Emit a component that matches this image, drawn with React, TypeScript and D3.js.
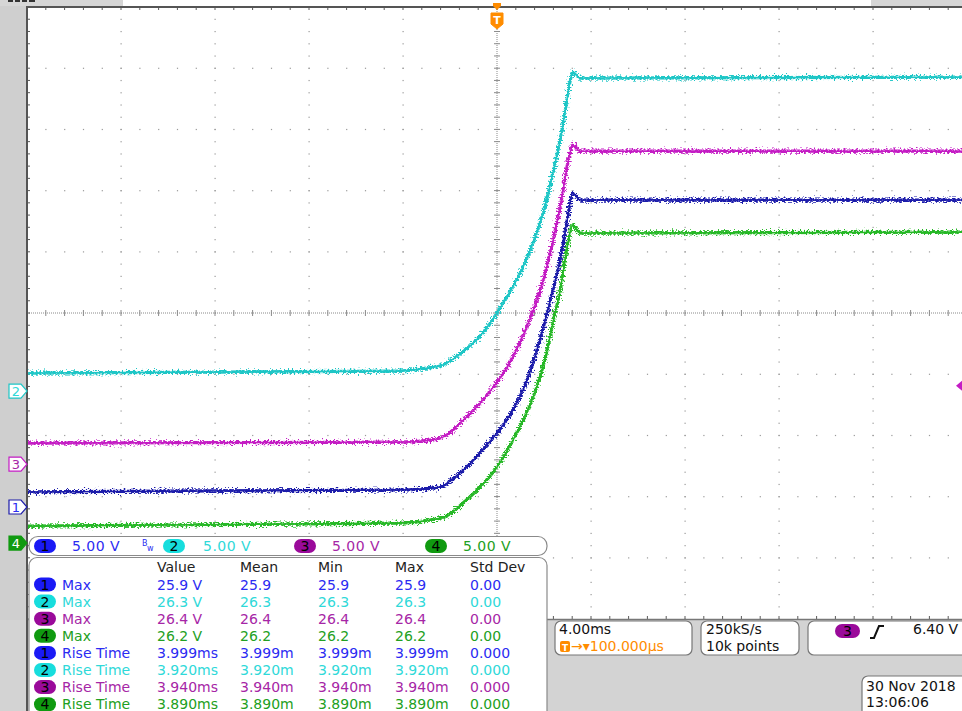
import React from "react";
import * as d3 from "d3";

const W = 962;
const H = 711;

// traces: [time ms, volts]
const ch1Trace: [number, number][] = [
  [-20, 1.23], [-4.13, 1.39], [-2.43, 1.63], [-1.79, 2.45], [-1.15, 3.51], [-0.51, 4.9],
  [0, 6.05], [0.55, 7.52], [1.11, 9.56], [1.7, 12.83], [2.13, 15.85], [2.38, 17.73],
  [2.55, 19.04], [2.77, 21.0], [2.98, 23.37], [3.23, 25.65], [3.53, 25.08], [19.8, 25.08],
];
const ch2Trace: [number, number][] = [
  [-20, 1.47], [-4.13, 1.63], [-3.28, 1.8], [-2.43, 2.04], [-1.57, 3.02], [-0.72, 4.49],
  [0, 6.37], [0.55, 8.09], [1.11, 10.13], [1.53, 12.09], [2.0, 14.79], [2.38, 17.81],
  [2.77, 21.32], [3.19, 25.9], [3.23, 26.06], [3.53, 25.57], [19.8, 25.65],
];
const ch3Trace: [number, number][] = [
  [-20, 1.72], [-4.13, 1.8], [-2.85, 1.96], [-2.21, 2.29], [-1.57, 3.35], [-0.72, 4.98],
  [0, 6.7], [0.43, 7.92], [0.98, 9.97], [1.53, 12.5], [2.04, 15.52], [2.38, 18.22],
  [2.77, 21.9], [3.02, 24.67], [3.23, 26.06], [3.53, 25.57], [19.8, 25.57],
];
const ch4Trace: [number, number][] = [
  [-20, 1.39], [-4.13, 1.63], [-2.85, 1.88], [-2.13, 2.21], [-1.45, 3.27], [-0.72, 4.58],
  [0, 6.21], [0.68, 8.42], [1.4, 11.27], [1.83, 13.56], [2.13, 15.77], [2.47, 18.79],
  [2.64, 20.18], [2.81, 22.06], [2.98, 24.1], [3.23, 25.98], [3.53, 25.33], [19.8, 25.41],
];
const traces = [ch1Trace, ch2Trace, ch3Trace, ch4Trace];

const channelIds = ["1", "2", "3", "4"];
const channelOffsetsDiv = [-3.17, -1.275, -2.47, -3.76];
const channelScales = ["5.00 V", "5.00 V", "5.00 V", "5.00 V"];
const voltsPerDiv = 5;

const traceColors = ["#1c1caa", "#1fc6c6", "#c41cc4", "#27b827"];
const textColors = ["#2b2bf2", "#2fd9d9", "#a626a6", "#22a022"];
const pillColors = ["#1a1af5", "#17dddd", "#9a0a9a", "#109a10"];
const drawOrder = [3, 0, 2, 1];

const measureHeaders = ["Value", "Mean", "Min", "Max", "Std Dev"];
const measureChannel = [0, 1, 2, 3, 0, 1, 2, 3];
const measureNames = ["Max", "Max", "Max", "Max", "Rise Time", "Rise Time", "Rise Time", "Rise Time"];
const measureValue = ["25.9 V", "26.3 V", "26.4 V", "26.2 V", "3.999ms", "3.920ms", "3.940ms", "3.890ms"];
const measureMean = ["25.9", "26.3", "26.4", "26.2", "3.999m", "3.920m", "3.940m", "3.890m"];
const measureMin = ["25.9", "26.3", "26.4", "26.2", "3.999m", "3.920m", "3.940m", "3.890m"];
const measureMax = ["25.9", "26.3", "26.4", "26.2", "3.999m", "3.920m", "3.940m", "3.890m"];
const measureStd = ["0.00", "0.00", "0.00", "0.00", "0.000", "0.000", "0.000", "0.000"];
const measureColX = [157, 240, 318, 395, 470];

const timePerDiv = "4.00ms";
const triggerDelay = "100.000µs";
const sampleRate = "250kS/s";
const recordLength = "10k points";
const triggerChannel = 2;
const triggerLevel = 6.4;
const triggerLevelText = "6.40 V";
const dateText = "30 Nov 2018";
const timeText = "13:06:06";

const ORANGE = "#ff8c00";
const FONT = "DejaVu Sans, sans-serif";

export default function App() {
  const x = d3.scaleLinear().domain([-20, 20]).range([27, 967]);
  const yDiv = d3.scaleLinear().domain([5, -5]).range([7, 619]);
  const chY = (c: number, v: number) => yDiv(v / voltsPerDiv + channelOffsetsDiv[c]);

  const xMinor = d3.range(-20, 20.01, 0.8).map((t) => x(t)).filter((p) => p <= W);
  const yMinor = d3.range(-5, 5.01, 0.2).map((d) => yDiv(d));
  const xMajor = d3.range(-16, 17, 4).filter((t) => t !== 0).map((t) => x(t));
  const yMajor = d3.range(-4, 5, 1).filter((d) => d !== 0).map((d) => yDiv(d));
  const cx = x(0);
  const cy = yDiv(0);

  const line = (c: number) =>
    d3
      .line<[number, number]>()
      .x((d) => x(d[0]))
      .y((d) => chY(c, d[1]))
      .curve(d3.curveMonotoneX)(traces[c]) || "";

  const trigY = chY(triggerChannel, triggerLevel);

  const pill = (px: number, py: number, c: number, w = 22, h = 14) => (
    <g>
      <rect x={px} y={py - h / 2} width={w} height={h} rx={h / 2} fill={pillColors[c]} />
      <text x={px + w / 2} y={py + 5} textAnchor="middle" fontSize={14} fill="#000" fontFamily={FONT}>
        {channelIds[c]}
      </text>
    </g>
  );

  const legendX = [34, 163, 294, 425];
  const legendTextX = [72, 203, 332, 463];

  return (
    <div style={{ position: "absolute", left: 0, top: 0 }}>
      <svg width={W} height={H} viewBox={`0 0 ${W} ${H}`} style={{ display: "block" }}>
        <defs>
          <clipPath id="plot">
            <rect x={28} y={8} width={W - 28} height={611} />
          </clipPath>
          <filter id="noise" x="0" y="0" width={W} height={H} filterUnits="userSpaceOnUse">
            <feTurbulence type="fractalNoise" baseFrequency="0.5 0.8" numOctaves={2} seed={7} result="t" />
            <feDisplacementMap in="SourceGraphic" in2="t" scale={9} xChannelSelector="R" yChannelSelector="G" />
          </filter>
        </defs>

        <rect width={W} height={H} fill="#fff" />
        <rect x={0} y={0} width={27} height={H} fill="#cfcfcf" />
        <rect x={0} y={620} width={W} height={H - 620} fill="#d3d3d3" />
        <rect x={0} y={0} width={123} height={6} fill="#d6d6d6" />
        <rect x={871} y={0} width={W - 871} height={6} fill="#d6d6d6" />
        <rect x={8} y={0} width={5} height={2} fill="#333" />
        <rect x={15} y={0} width={5} height={2} fill="#333" />
        <rect x={22} y={0} width={5} height={2} fill="#333" />
        <rect x={29} y={0} width={6} height={2} fill="#333" />

        {/* grid dots */}
        <g fill="#9a9a9a">
          {xMajor.map((gx) =>
            yMinor.map((gy) => <rect key={`v${gx}-${gy}`} x={gx - 0.5} y={gy - 0.5} width={1.2} height={1.2} />)
          )}
          {yMajor.map((gy) =>
            xMinor.map((gx) => <rect key={`h${gx}-${gy}`} x={gx - 0.5} y={gy - 0.5} width={1.2} height={1.2} />)
          )}
        </g>

        {/* centre crosshair */}
        <g stroke="#8a8a8a" strokeWidth={1}>
          <line x1={27} x2={W} y1={cy} y2={cy} strokeDasharray="1 1" />
          <line x1={cx} x2={cx} y1={7} y2={619} strokeDasharray="1 1" />
          {xMinor.map((gx) => (
            <line key={`cx${gx}`} x1={gx} x2={gx} y1={cy - 3} y2={cy + 3} />
          ))}
          {yMinor.map((gy) => (
            <line key={`cy${gy}`} x1={cx - 3} x2={cx + 3} y1={gy} y2={gy} />
          ))}
        </g>

        {/* borders */}
        <g stroke="#5a5a5a" strokeWidth={1}>
          {xMinor.map((gx) => (
            <line key={`tb${gx}`} x1={gx} x2={gx} y1={7} y2={10} />
          ))}
          {xMinor.map((gx) => (
            <line key={`bb${gx}`} x1={gx} x2={gx} y1={616} y2={619} />
          ))}
          {yMinor.map((gy) => (
            <line key={`lb${gy}`} x1={27} x2={30} y1={gy} y2={gy} />
          ))}
        </g>
        <line x1={27} x2={W} y1={7} y2={7} stroke="#555" strokeWidth={2} />
        <line x1={27} x2={W} y1={619.5} y2={619.5} stroke="#777" strokeWidth={1.5} />
        <line x1={27} x2={27} y1={6} y2={H} stroke="#555" strokeWidth={2} />

        {/* traces */}
        <g clipPath="url(#plot)">
          <g filter="url(#noise)">
            {drawOrder.map((c) => (
              <path key={c} d={line(c)} fill="none" stroke={traceColors[c]} strokeWidth={3.2} />
            ))}
          </g>
          {drawOrder.map((c) => (
            <path key={`s${c}`} d={line(c)} fill="none" stroke={traceColors[c]} strokeWidth={1.6} />
          ))}
        </g>

        {/* trigger marker top */}
        <path d={`M${cx - 4},3 L${cx + 4},3 L${cx + 4},6 L${cx},10 L${cx - 4},6 Z`} fill={ORANGE} />
        <path
          d={`M${cx - 6},13 H${cx + 6} V24 L${cx},29 L${cx - 6},24 Z`}
          fill={ORANGE}
          stroke={ORANGE}
          strokeLinejoin="round"
        />
        <text x={cx} y={24} textAnchor="middle" fontSize={11} fontWeight="bold" fill="#fff" fontFamily={FONT}>
          T
        </text>

        {/* trigger level marker right */}
        <path d={`M${W},${trigY - 5} L${W - 6},${trigY} L${W},${trigY + 5} Z`} fill={traceColors[triggerChannel]} />

        {/* ground markers */}
        {[1, 2, 0, 3].map((c) => {
          const gy = yDiv(channelOffsetsDiv[c]);
          const sel = c === 3;
          return (
            <g key={`gm${c}`}>
              <path
                d={`M9,${gy - 7} H21 L27,${gy} L21,${gy + 7} H9 Z`}
                fill={sel ? pillColors[c] : "#fff"}
                stroke={sel ? pillColors[c] : traceColors[c]}
                strokeWidth={1.2}
              />
              <text
                x={16}
                y={gy + 5}
                textAnchor="middle"
                fontSize={13}
                fill={sel ? "#fff" : textColors[c]}
                fontFamily={FONT}
              >
                {channelIds[c]}
              </text>
            </g>
          );
        })}

        {/* channel legend bar */}
        <rect x={29} y={536.5} width={518} height={19} rx={9} fill="#fff" stroke="#8a8a8a" strokeWidth={1.2} />
        {[0, 1, 2, 3].map((c) => (
          <g key={`lg${c}`}>
            {pill(legendX[c], 546, c)}
            <text x={legendTextX[c]} y={551} fontSize={14} fill={textColors[c]} fontFamily={FONT} letterSpacing={0.5}>
              {channelScales[c]}
            </text>
          </g>
        ))}
        <text x={142} y={546} fontSize={8} fill={textColors[0]} fontFamily={FONT}>
          B
        </text>
        <text x={147} y={551} fontSize={8} fill={textColors[0]} fontFamily={FONT}>
          w
        </text>

        {/* measurement table */}
        <rect x={29} y={557.5} width={518} height={170} rx={8} fill="#fff" stroke="#8a8a8a" strokeWidth={1.2} />
        {measureHeaders.map((h, i) => (
          <text key={h} x={measureColX[i]} y={572} fontSize={14} fill="#222" fontFamily={FONT}>
            {h}
          </text>
        ))}
        {measureNames.map((name, r) => {
          const c = measureChannel[r];
          const by = 589.5 + r * 17.1;
          const cols = [measureValue[r], measureMean[r], measureMin[r], measureMax[r], measureStd[r]];
          return (
            <g key={`m${r}`}>
              {pill(34, by - 5, c)}
              <text x={62} y={by} fontSize={14} fill={textColors[c]} fontFamily={FONT}>
                {name}
              </text>
              {cols.map((v, i) => (
                <text key={i} x={measureColX[i]} y={by} fontSize={14} fill={textColors[c]} fontFamily={FONT}>
                  {v}
                </text>
              ))}
            </g>
          );
        })}

        {/* horizontal / acquisition / trigger boxes */}
        <rect x={555} y={621} width={137} height={34} rx={6} fill="#fff" stroke="#777" strokeWidth={1.2} />
        <text x={559} y={634} fontSize={14} fill="#111" fontFamily={FONT}>
          {timePerDiv}
        </text>
        <rect x={560} y={641} width={10} height={11} rx={2} fill={ORANGE} />
        <text x={565} y={650.5} textAnchor="middle" fontSize={9} fontWeight="bold" fill="#fff" fontFamily={FONT}>
          T
        </text>
        <text x={571} y={651} fontSize={14} fill={ORANGE} fontFamily={FONT}>
          {"→▾" + triggerDelay}
        </text>

        <rect x={701} y={621} width={98} height={34} rx={6} fill="#fff" stroke="#777" strokeWidth={1.2} />
        <text x={706} y={634} fontSize={14} fill="#111" fontFamily={FONT}>
          {sampleRate}
        </text>
        <text x={706} y={651} fontSize={14} fill="#111" fontFamily={FONT}>
          {recordLength}
        </text>

        <rect x={808} y={621} width={170} height={34} rx={6} fill="#fff" stroke="#777" strokeWidth={1.2} />
        {pill(835, 631, triggerChannel, 25, 14)}
        <path d="M870,638 H874 L879,626 H884" fill="none" stroke="#111" strokeWidth={2} />
        <text x={913} y={634} fontSize={14} fill="#111" fontFamily={FONT}>
          {triggerLevelText}
        </text>

        <rect x={862} y={676} width={120} height={50} rx={6} fill="#fff" stroke="#777" strokeWidth={1.2} />
        <text x={866} y={691} fontSize={14} fill="#111" fontFamily={FONT}>
          {dateText}
        </text>
        <text x={866} y={707} fontSize={14} fill="#111" fontFamily={FONT}>
          {timeText}
        </text>
      </svg>
    </div>
  );
}
